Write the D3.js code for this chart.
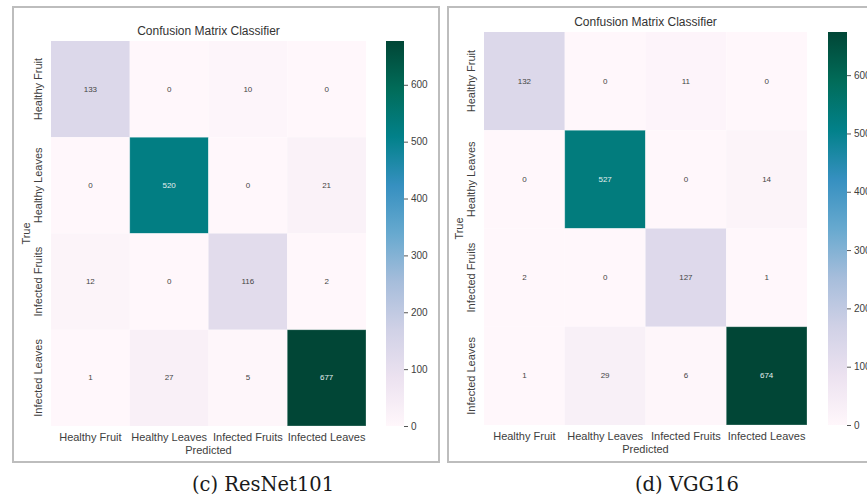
<!DOCTYPE html>
<html>
<head>
<meta charset="utf-8">
<script src="https://cdn.jsdelivr.net/npm/d3@7"></script>
<style>
  html, body { margin: 0; padding: 0; background: #ffffff; }
  svg { display: block; }
</style>
</head>
<body>
<svg id="chart" width="867" height="497"></svg>
<script>
// Class labels shared by both confusion matrices (rows = true, columns = predicted)
const categories = ["Healthy Fruit", "Healthy Leaves", "Infected Fruits", "Infected Leaves"];

// Confusion matrix counts, row-major
const resnetValues = [
  [133, 0, 10, 0],
  [0, 520, 0, 21],
  [12, 0, 116, 2],
  [1, 27, 5, 677]
];
const vggValues = [
  [132, 0, 11, 0],
  [0, 527, 0, 14],
  [2, 0, 127, 1],
  [1, 29, 6, 674]
];

// Colorbar tick values
const colorbarTicks = [0, 100, 200, 300, 400, 500, 600];

const chartTitle = "Confusion Matrix Classifier";
const xAxisTitle = "Predicted";
const yAxisTitle = "True";
const captions = ["(c) ResNet101", "(d) VGG16"];

const svg = d3.select("#chart");
const sans = "'Liberation Sans', Arial, sans-serif";

// PuBuGn as piecewise-linear segments between the nine ColorBrewer stops
const pubugn = d3.piecewise(d3.interpolateRgb, d3.schemePuBuGn[9]);

function drawPanel(values, caption, L, id) {
  const g = svg.append("g");

  // panel frame
  g.append("rect")
    .attr("x", L.frame[0]).attr("y", L.frame[1])
    .attr("width", L.frame[2]).attr("height", L.frame[3])
    .attr("fill", "#ffffff")
    .attr("stroke", "#bdbdbd")
    .attr("stroke-width", 2);

  const vmax = d3.max(values.flat());
  const color = v => pubugn(v / vmax);

  const x = d3.scaleBand().domain(categories).range([L.x0, L.x1]);
  const y = d3.scaleBand().domain(categories).range([L.y0, L.y1]);

  const cells = [];
  values.forEach((row, i) => row.forEach((v, j) => cells.push({ r: categories[i], c: categories[j], v })));

  g.selectAll("rect.cell").data(cells).enter().append("rect")
    .attr("class", "cell")
    .attr("x", d => x(d.c)).attr("y", d => y(d.r))
    .attr("width", x.bandwidth()).attr("height", y.bandwidth())
    .attr("fill", d => color(d.v))
    .attr("stroke", d => d.v / vmax > 0.5 ? "rgba(255,255,255,0.35)" : "none")
    .attr("stroke-width", 0.8);

  g.selectAll("text.annot").data(cells).enter().append("text")
    .attr("class", "annot")
    .attr("x", d => x(d.c) + x.bandwidth() / 2)
    .attr("y", d => y(d.r) + y.bandwidth() / 2)
    .attr("text-anchor", "middle")
    .attr("dominant-baseline", "central")
    .attr("font-family", sans)
    .attr("font-size", 8)
    .attr("fill", d => d.v / vmax > 0.5 ? "#e4eeee" : "#444444")
    .text(d => d.v);

  // title
  g.append("text")
    .attr("x", (L.x0 + L.x1) / 2).attr("y", L.y0 - 6)
    .attr("text-anchor", "middle")
    .attr("font-family", sans).attr("font-size", 12)
    .attr("fill", "#333333")
    .text(chartTitle);

  // x tick labels
  g.selectAll("text.xt").data(categories).enter().append("text")
    .attr("class", "xt")
    .attr("x", d => x(d) + x.bandwidth() / 2)
    .attr("y", L.y1 + 15)
    .attr("text-anchor", "middle")
    .attr("font-family", sans).attr("font-size", 11)
    .attr("fill", "#404040")
    .text(d => d);

  g.append("text")
    .attr("x", (L.x0 + L.x1) / 2).attr("y", L.y1 + 28)
    .attr("text-anchor", "middle")
    .attr("font-family", sans).attr("font-size", 11)
    .attr("fill", "#404040")
    .text(xAxisTitle);

  // y tick labels (rotated)
  g.selectAll("text.yt").data(categories).enter().append("text")
    .attr("class", "yt")
    .attr("transform", d => `translate(${L.x0 - 13},${y(d) + y.bandwidth() / 2}) rotate(-90)`)
    .attr("text-anchor", "middle")
    .attr("dominant-baseline", "central")
    .attr("font-family", sans).attr("font-size", 11)
    .attr("fill", "#404040")
    .text(d => d);

  g.append("text")
    .attr("transform", `translate(${L.x0 - 25},${(L.y0 + L.y1) / 2}) rotate(-90)`)
    .attr("text-anchor", "middle")
    .attr("dominant-baseline", "central")
    .attr("font-family", sans).attr("font-size", 11)
    .attr("fill", "#404040")
    .text(yAxisTitle);

  // colorbar
  const cbScale = d3.scaleLinear().domain([0, vmax]).range([L.y1, L.y0]);
  const defs = svg.append("defs");
  const grad = defs.append("linearGradient")
    .attr("id", "grad" + id)
    .attr("x1", "0").attr("y1", "1").attr("x2", "0").attr("y2", "0");
  d3.range(0, 1.0001, 0.125).forEach(t => {
    grad.append("stop").attr("offset", t).attr("stop-color", pubugn(t));
  });
  g.append("rect")
    .attr("x", L.cbx).attr("y", L.y0)
    .attr("width", L.cbw).attr("height", L.y1 - L.y0)
    .attr("fill", `url(#grad${id})`);

  const axis = g.append("g")
    .attr("transform", `translate(${L.cbx + L.cbw},0)`)
    .call(d3.axisRight(cbScale).tickValues(colorbarTicks).tickSize(4).tickPadding(3));
  axis.select(".domain").remove();
  axis.selectAll(".tick line").attr("stroke", "#555555");
  axis.selectAll(".tick text")
    .attr("font-family", sans).attr("font-size", 10)
    .attr("fill", "#404040");

  // caption
  g.append("text")
    .attr("x", L.capx).attr("y", 491)
    .attr("text-anchor", "middle")
    .attr("font-family", "'DejaVu Serif', serif")
    .attr("font-size", 19.5)
    .attr("fill", "#1a1a1a")
    .text(caption);
}

drawPanel(resnetValues, captions[0], {
  frame: [13, 7, 426, 455],
  x0: 51, x1: 366, y0: 41, y1: 426,
  cbx: 386, cbw: 18,
  capx: 263
}, "a");

drawPanel(vggValues, captions[1], {
  frame: [448, 7, 440, 455],
  x0: 484, x1: 807, y0: 32, y1: 425,
  cbx: 828, cbw: 19,
  capx: 687
}, "b");
</script>
</body>
</html>
